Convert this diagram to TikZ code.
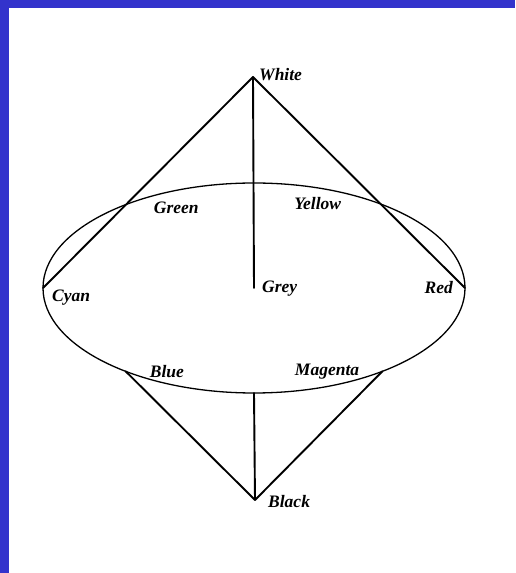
\documentclass[tikz,border=0pt]{standalone}
\usepackage{fontspec}
\setmainfont{Liberation Serif}
\usetikzlibrary{shapes.geometric}
\definecolor{frameblue}{RGB}{51,51,204}
\tikzset{
	edge/.style={line width=1.9pt, line cap=round, line join=round},
	rim/.style={ellipse, draw, line width=1.3pt, inner sep=0pt, outer sep=0pt,
		minimum width=422pt, minimum height=210pt},
	lbl/.style={font=\fontsize{17.5}{20}\selectfont\bfseries\itshape,
		inner sep=0pt, text height=11.5pt, text depth=0pt}
}

\begin{document}
\begin{tikzpicture}[x=1pt, y=1pt]
	\useasboundingbox (0,0) rectangle (515,573);
	\fill[frameblue] (0,565) rectangle (515,573);
	\fill[frameblue] (0,0) rectangle (9,573);
	% colour circle and the two tips
	\node[rim] (hue) at (254,285) {};
	\coordinate (white) at (253,496);
	\coordinate (black) at (255,73);
	\coordinate (grey) at (hue.center);
	\coordinate (cyan) at (hue.west);
	\coordinate (red) at (hue.east);
	\coordinate (green) at (hue.146.5);
	\coordinate (yellow) at (hue.34.4);
	\coordinate (blue) at (hue.213.7);
	\coordinate (magenta) at (hue.327.2);
	\draw[edge] (white) -- (cyan);
	\draw[edge] (white) -- (red);
	\draw[edge] (white) -- (grey);
	\draw[edge] (blue) -- (black) -- (magenta);
	\draw[edge] (hue.south) -- (black);
	% names
	\node[lbl, anchor=west] (tWhite) at ([shift={(6,2)}]white) {White};
	\node[lbl, anchor=west] (tGreen) at ([shift={(25,-4)}]green) {Green};
	\node[lbl, anchor=east] (tYellow) at ([shift={(-38,0)}]yellow) {Yellow};
	\node[lbl, anchor=west] (tGrey) at ([shift={(8,1)}]grey) {Grey};
	\node[lbl, anchor=east] (tRed) at ([shift={(-12,0)}]red) {Red};
	\node[lbl, anchor=west] (tCyan) at ([shift={(9,-8)}]cyan) {Cyan};
	\node[lbl, anchor=west] (tBlue) at ([shift={(24,0)}]blue) {Blue};
	\node[lbl, anchor=east] (tMagenta) at ([shift={(-23,2)}]magenta) {Magenta};
	\node[lbl, anchor=west] (tBlack) at ([shift={(13,-2)}]black) {Black};
\end{tikzpicture}
\end{document}
